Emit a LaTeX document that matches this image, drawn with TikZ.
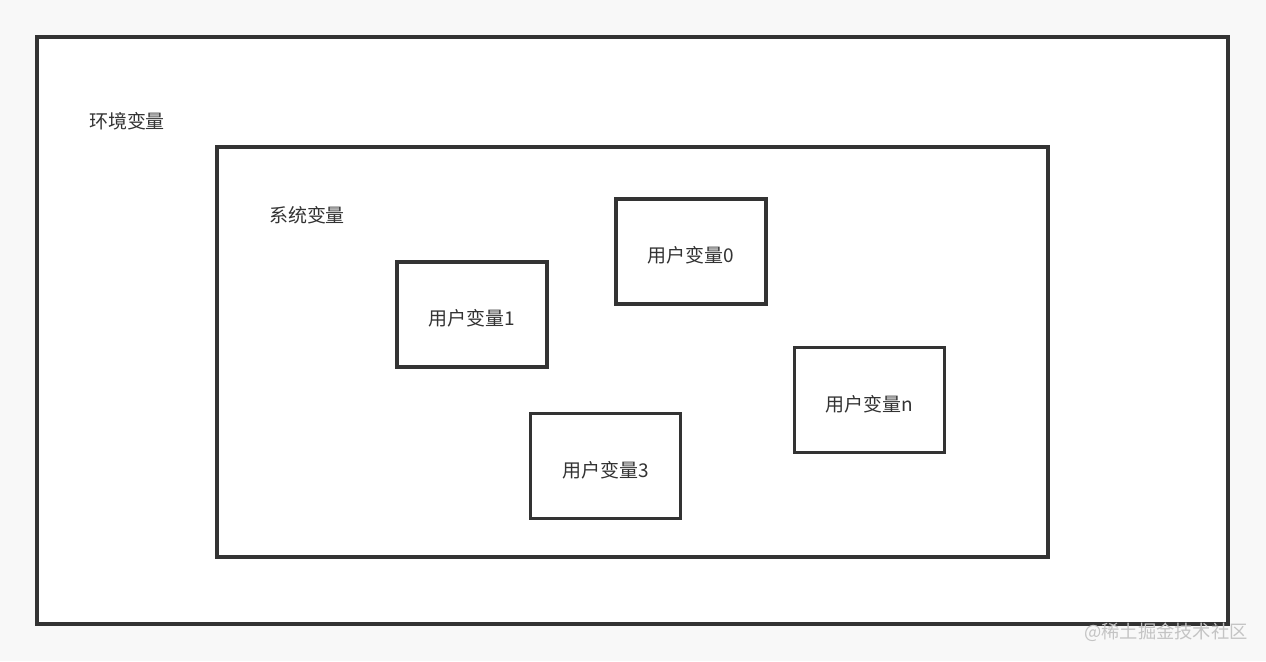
\documentclass[tikz,border=0pt]{standalone}
\usepackage{fontspec}
\setmainfont{Noto Sans CJK SC}
\usepackage{tikz}
\usetikzlibrary{positioning}
\usepackage{xcolor}
\definecolor{linegray}{HTML}{333333}
\definecolor{pagebg}{HTML}{F8F8F8}
\definecolor{markgray}{HTML}{C4C4C4}

\begin{document}
\begin{tikzpicture}[
    varbox/.style={draw=linegray, line width=2pt, fill=white, inner sep=0pt},
    userbox/.style={varbox, minimum width=3cm, minimum height=2.1cm,
      text height=0.45cm, text depth=0cm},
    varlabel/.style={font=\fontsize{10.8pt}{12pt}\selectfont, text=linegray}
  ]
  % Page background
  \fill[pagebg] (0, 0) rectangle (25.32, 13.22);
  \useasboundingbox (0, 0) rectangle (25.32, 13.22);

  % Environment box (outer)
  \node[varbox, minimum width=23.82cm, minimum height=11.74cm] (envbox)
    at (12.65, 6.61) {};
  \node[varlabel] (envlabel) at (2.54, 10.8) {环境变量};

  % System box (inner)
  \node[varbox, minimum width=16.62cm, minimum height=8.2cm] (sysbox)
    at (12.65, 6.18) {};
  \node[varlabel] (syslabel) at (6.14, 8.92) {系统变量};

  % User variable boxes
  \node[userbox, varlabel] (user0) at (13.82, 8.19) {用户变量0};
  \node[userbox, varlabel] (user1) at (9.44, 6.93) {用户变量1};
  \node[userbox, varlabel] (usern) at (17.39, 5.22) {用户变量n};
  \node[userbox, varlabel] (user3) at (12.11, 3.90) {用户变量3};

  % Watermark
  \node[font=\fontsize{10.4pt}{12pt}\selectfont, text=markgray] (mark)
    at (23.32, 0.58) {@稀土掘金技术社区};
\end{tikzpicture}
\end{document}
